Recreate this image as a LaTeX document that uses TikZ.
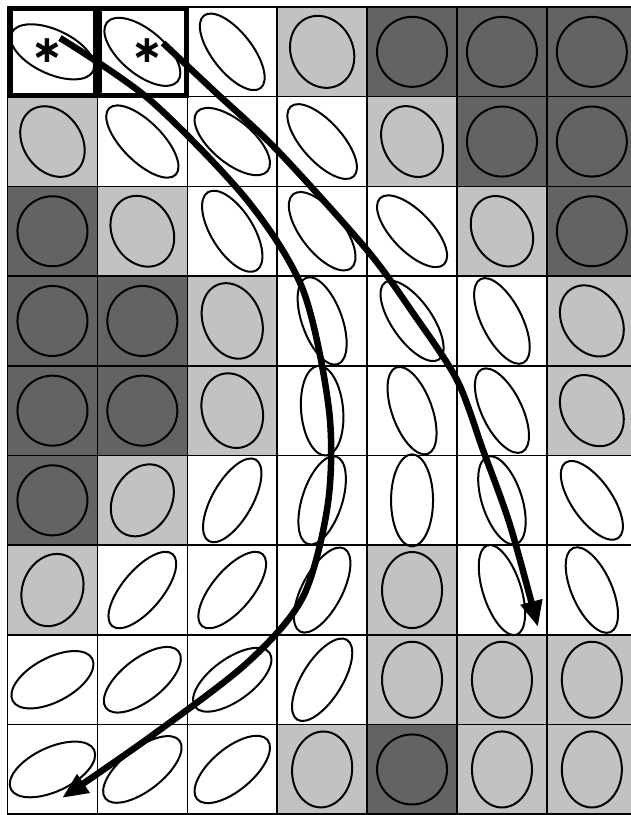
\documentclass[tikz,border=0pt]{standalone}
\usepackage{fontspec}
\newfontfamily\astfont{DejaVu Sans}
\usetikzlibrary{arrows.meta}
\definecolor{W}{gray}{1}
\definecolor{L}{gray}{0.76}
\definecolor{D}{gray}{0.39}
\def\celldata{%
0/0/W/45/22/-25, 0/1/W/46/22/-40, 0/2/W/46/20/-52, 0/3/L/37/31/-65, 0/4/D/35/35/0, 0/5/D/35/35/0, 0/6/D/35/35/0,
1/0/L/38/29/-55, 1/1/W/47/20/-45, 1/2/W/46/21/-40, 1/3/W/47/20/-48, 1/4/L/37/29/-62, 1/5/D/35/35/0, 1/6/D/35/35/0,
2/0/D/35/35/0, 2/1/L/37/30/-60, 2/2/W/46/21/-58, 2/3/W/47/21/-52, 2/4/W/46/20/-46, 2/5/L/37/29/-60, 2/6/D/35/35/0,
3/0/D/35/35/0, 3/1/D/35/35/0, 3/2/L/39/29/-68, 3/3/W/46/20/-70, 3/4/W/47/20/-55, 3/5/W/47/20/-63, 3/6/L/38/29/-57,
4/0/D/35/35/0, 4/1/D/35/35/0, 4/2/L/38/30/-72, 4/3/W/45/21/-85, 4/4/W/46/20/-70, 4/5/W/46/20/-64, 4/6/L/38/29/-57,
5/0/D/35/35/0, 5/1/L/38/29/60, 5/2/W/47/20/60, 5/3/W/46/20/72, 5/4/W/46/21/90, 5/5/W/46/20/-72, 5/6/W/46/20/-55,
6/0/L/37/30/68, 6/1/W/47/20/50, 6/2/W/47/20/50, 6/3/W/47/20/62, 6/4/L/38/30/90, 6/5/W/47/19/-72, 6/6/W/46/20/-66,
7/0/W/45/22/28, 7/1/W/46/21/38, 7/2/W/46/21/36, 7/3/W/47/20/58, 7/4/L/38/30/90, 7/5/L/38/30/90, 7/6/L/38/30/90,
8/0/W/46/22/25, 8/1/W/47/21/38, 8/2/W/46/21/40, 8/3/L/38/30/85, 8/4/D/35/35/0, 8/5/L/38/30/90, 8/6/L/38/30/90}
\begin{document}
\begin{tikzpicture}[x=1pt,y=1pt,
  cellbox/.style={draw=black, line width=1.6pt, rectangle, minimum width=89.9pt,
    minimum height=89.7pt, inner sep=0pt, outer sep=0pt},
  ell/.style={draw=black, line width=2pt},
  selbox/.style={draw=black, line width=5pt, rectangle, inner sep=0pt, outer sep=0pt},
  flow/.style={line width=6.5pt, -{Triangle[length=26pt,width=21pt]}},
  astnode/.style={font=\astfont\bfseries\fontsize{38}{38}\selectfont, inner sep=0pt}]
\useasboundingbox (0,0) rectangle (631,815);
\fill[white] (0,0) rectangle (631,815);
% cells
\foreach \r/\c/\f/\a/\b/\t in \celldata {
  \node[cellbox, fill=\f] (n\r\c) at ({52.45+89.9*\c},{763.15-89.7*\r}) {};
}
% ellipses
\foreach \r/\c/\f/\a/\b/\t in \celldata {
  \draw[ell] (n\r\c.center) circle[x radius=\a, y radius=\b, rotate=\t];
}
% selection boxes
\node[selbox, minimum width=85pt, minimum height=86.5pt] (sel1) at (52.5,762.75) {};
\node[selbox, minimum width=87pt, minimum height=86.5pt] (sel2) at (143,762.75) {};
% asterisks
\node[astnode] (ast1) at (47,764) {∗};
\node[astnode] (ast2) at (147,764) {∗};
% arrows
\coordinate (s1) at (60,777);
\coordinate (e1) at (62,17);
\coordinate (s2) at (163,772);
\coordinate (e2) at (538,188);
\draw[flow] plot[smooth] coordinates {(s1) (150,715) (247,615) (303,525) (329,405) (328,312) (303,218) (247,152) (150,78) (e1)};
\draw[flow] plot[smooth] coordinates {(s2) (213,725) (277,665) (367,565) (413,502) (457,435) (483,365) (510,290) (e2)};
\end{tikzpicture}
\end{document}
